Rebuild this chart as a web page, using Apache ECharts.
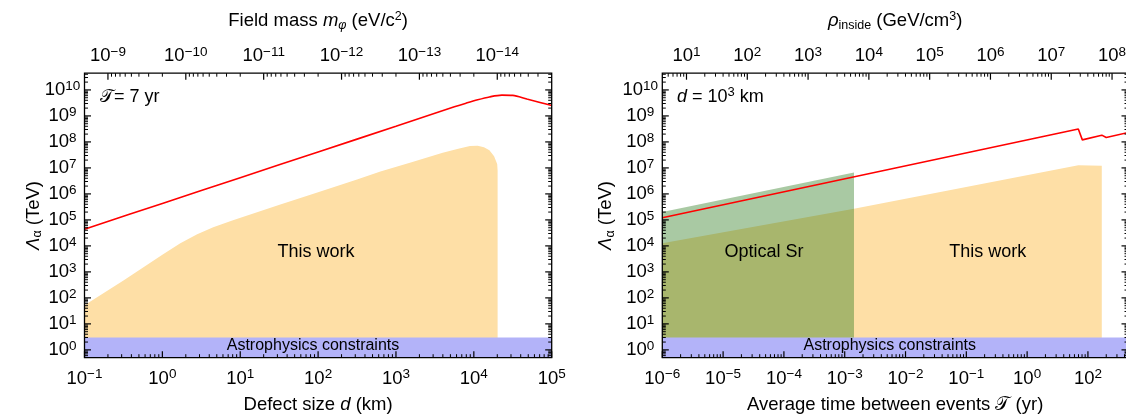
<!DOCTYPE html>
<html>
<head>
<meta charset="utf-8">
<script src="https://cdn.jsdelivr.net/npm/echarts@6.0.0/dist/echarts.min.js"></script>
<style>
html,body{margin:0;padding:0;background:#ffffff;}
#chart{width:1126px;height:417px;}
</style>
</head>
<body>
<div id="chart"></div>
<script>
// ================= DATA =================
// Left panel: bound on Lambda_alpha (TeV) vs defect size d (km), T = 7 yr
const leftRedD        = [0.1, 1, 10, 100, 1000, 3.16e3, 5.62e3, 7.94e3, 1.12e4, 1.585e4, 2.29e4, 3.16e4, 4.79e4, 7.08e4, 1e5];
const leftRedLambda   = [4.4e4, 4.3e5, 4.2e6, 4.1e7, 4.0e8, 1.26e9, 2.24e9, 3.09e9, 4.17e9, 5.37e9, 6.3e9, 6.17e9, 4.47e9, 3.31e9, 2.51e9];
const leftWorkD       = [0.1, 0.32, 1, 1.7, 2.8, 4.5, 7.9, 32, 100, 316, 631, 1585, 3981, 6310, 8913, 1.12e4, 1.35e4, 1.585e4, 1.82e4, 1.995e4, 2.02e4, 2.02e4];
const leftWorkLambda  = [52, 480, 4.6e3, 1.26e4, 2.8e4, 5.2e4, 9.5e4, 3.8e5, 1.17e6, 3.6e6, 7.2e6, 1.66e7, 3.8e7, 5.5e7, 6.9e7, 7.1e7, 6.3e7, 4.8e7, 2.8e7, 1.4e7, 8e6, 0.5];

// Right panel: bound vs average time between events T (yr), d = 10^3 km
const rightRedT       = [1e-6, 6.95, 8.09, 16.9, 20.0, 45.6];
const rightRedLambda  = [1.2e5, 3.16e8, 1.2e8, 1.82e8, 1.48e8, 2.3e8];
const rightSrT        = [1e-6, 1.42e-3, 1.42e-3];
const rightSrLambda   = [2.0e5, 6.6e6, 0.5];
const rightWorkT      = [1e-6, 1.42e-3, 6.95, 16.9, 16.9];
const rightWorkLambda = [1.26e4, 2.7e5, 1.26e7, 1.2e7, 0.5];

const astroLimit = 3; // TeV

// Axis ranges
const leftDRange    = [0.1, 1e5];
const leftMassRange = [2e-15, 2e-9];
const lambdaRange   = [0.5, 4.4e10];
const rightTRange   = [1e-6, 45.6];
const rightRhoRange = [4.0, 1.83e8];

// Tick values and their labels (exponents of 10)
const leftDTicks        = [0.1, 1, 10, 100, 1e3, 1e4, 1e5];
const leftDTickLabels   = ['−1', '0', '1', '2', '3', '4', '5'];
const leftMassTicks     = [1e-9, 1e-10, 1e-11, 1e-12, 1e-13, 1e-14];
const leftMassTickLabels= ['−9', '−10', '−11', '−12', '−13', '−14'];
const lambdaTicks       = [1, 10, 100, 1e3, 1e4, 1e5, 1e6, 1e7, 1e8, 1e9, 1e10];
const lambdaTickLabels  = ['0', '1', '2', '3', '4', '5', '6', '7', '8', '9', '10'];
const rightTTicks       = [1e-6, 1e-5, 1e-4, 1e-3, 1e-2, 1e-1, 1, 10];
const rightTTickLabels  = ['−6', '−5', '−4', '−3', '−2', '−1', '0', '2'];
const rightRhoTicks     = [10, 100, 1e3, 1e4, 1e5, 1e6, 1e7, 1e8];
const rightRhoTickLabels= ['1', '2', '3', '4', '5', '6', '7', '8'];

// Text annotations (positions in data units)
const leftNotes = [
  {x: 94,    y: 6.0e3, text: 'This work', size: 18},
  {x: 86,    y: 1.5,   text: 'Astrophysics constraints', size: 16},
  {x: 0.158, y: 5.5e9, text: '𝒯= 7 yr', size: 18, align: 'left'}
];
const rightNotes = [
  {x: 4.7e-5,  y: 6.0e3, text: 'Optical Sr', size: 18},
  {x: 0.226,   y: 6.0e3, text: 'This work', size: 18},
  {x: 5.5e-3,  y: 1.5,   text: 'Astrophysics constraints', size: 16},
  {x: 1.75e-6, y: 5.5e9, text: '{i|d} = 10{s|3} km', size: 18, align: 'left'}
];

// ================= STYLE =================
const FONT = '"Liberation Sans", Arial, Helvetica, "DejaVu Sans", sans-serif';
const ORANGE = '#FEDFA6';
const GREEN  = 'rgba(40,120,25,0.40)';
const BAND   = '#B3B3F9';
const RED    = '#FF0000';
const TICK_MAJ = 6.5, TICK_MIN = 3.5;

const tickRich = {
  b: {fontSize: 18.5, lineHeight: 22, fontFamily: FONT, verticalAlign: 'middle', fill: '#000'},
  s: {fontSize: 13.5, lineHeight: 13, fontFamily: FONT, verticalAlign: 'top', fill: '#000'}
};
const noteRich = {
  i: {fontSize: 18, lineHeight: 22, fontFamily: FONT, fontStyle: 'italic', verticalAlign: 'middle', fill: '#000'},
  s: {fontSize: 13, lineHeight: 13, fontFamily: FONT, verticalAlign: 'top', fill: '#000'}
};
const nameRich = {
  i:   {fontSize: 18.5, lineHeight: 22, fontFamily: FONT, fontStyle: 'italic', color: '#000', verticalAlign: 'middle'},
  sub: {fontSize: 12.5, lineHeight: 12, fontFamily: FONT, color: '#000', verticalAlign: 'bottom'},
  subi:{fontSize: 12.5, lineHeight: 12, fontFamily: FONT, fontStyle: 'italic', color: '#000', verticalAlign: 'bottom'},
  sup: {fontSize: 12.5, lineHeight: 12, fontFamily: FONT, color: '#000', verticalAlign: 'top'}
};
const nameStyle = {fontSize: 18.5, lineHeight: 22, fontFamily: FONT, color: '#000', rich: nameRich};

function zip(a, b) { return a.map((v, i) => [v, b[i]]); }

function minorTicks(range) {
  const out = [];
  const lo = Math.min(range[0], range[1]), hi = Math.max(range[0], range[1]);
  const e0 = Math.floor(Math.log10(lo)) - 1;
  const e1 = Math.ceil(Math.log10(hi)) + 1;
  for (let e = e0; e <= e1; e++) {
    for (let k = 2; k <= 9; k++) {
      const v = k * Math.pow(10, e);
      if (v > lo && v < hi) out.push(v);
    }
  }
  return out;
}

function seg(x1, y1, x2, y2, w) {
  return {type: 'line', shape: {x1: x1, y1: y1, x2: x2, y2: y2}, style: {stroke: '#000', lineWidth: w || 1}};
}
function powText(x, y, exp, align, vAlign) {
  return {type: 'text', x: x, y: y, style: {text: '{b|10}{s|' + exp + '}', rich: tickRich, fill: '#000',
    fontFamily: FONT, fontSize: 18.5, align: align, verticalAlign: vAlign}};
}

// Custom series that draws frame + x ticks (bottom or top) + y ticks through the axes' scales
function frameSeries(xIdx, yIdx, opt) {
  return {
    type: 'custom', xAxisIndex: xIdx, yAxisIndex: yIdx, z: 30, silent: true, clip: false,
    data: [[opt.xRef, opt.yRef]],
    renderItem: function (params, api) {
      const cs = params.coordSys;
      const L = cs.x, T = cs.y, R = cs.x + cs.width, B = cs.y + cs.height;
      const ch = [];
      if (opt.frame) {
        ch.push({type: 'rect', shape: {x: L, y: T, width: R - L, height: B - T},
          style: {fill: 'none', stroke: '#000', lineWidth: 1.3}});
      }
      if (opt.xTicks) {
        const top = opt.xSide === 'top';
        const y0 = top ? T : B;
        const dir = top ? 1 : -1;
        opt.xMinor.forEach(function (v) {
          const px = api.coord([v, opt.yRef])[0];
          ch.push(seg(px, y0, px, y0 + dir * TICK_MIN));
        });
        opt.xTicks.forEach(function (v, i) {
          const px = api.coord([v, opt.yRef])[0];
          ch.push(seg(px, y0, px, y0 + dir * TICK_MAJ, 1.2));
          if (top) ch.push(powText(px, T - 6, opt.xLabels[i], 'center', 'bottom'));
          else ch.push(powText(px, B + 10, opt.xLabels[i], 'center', 'top'));
        });
      }
      if (opt.yTicks) {
        opt.yMinor.forEach(function (v) {
          const py = api.coord([opt.xRef, v])[1];
          ch.push(seg(L, py, L + TICK_MIN, py));
          ch.push(seg(R, py, R - TICK_MIN, py));
        });
        opt.yTicks.forEach(function (v, i) {
          const py = api.coord([opt.xRef, v])[1];
          ch.push(seg(L, py, L + TICK_MAJ, py, 1.2));
          ch.push(seg(R, py, R - TICK_MAJ, py, 1.2));
          ch.push(powText(L - 22, py, opt.yLabels[i], 'center', 'middle'));
        });
      }
      return {type: 'group', children: ch};
    }
  };
}

function noteSeries(xIdx, yIdx, notes) {
  return {
    type: 'custom', xAxisIndex: xIdx, yAxisIndex: yIdx, z: 25, silent: true, clip: false,
    data: notes.map(function (n) { return [n.x, n.y]; }),
    renderItem: function (params, api) {
      const n = notes[params.dataIndex];
      const p = api.coord([api.value(0), api.value(1)]);
      return {type: 'text', x: p[0], y: p[1], style: {text: n.text, rich: noteRich, fill: '#000',
        fontFamily: FONT, fontSize: n.size, align: n.align || 'center', verticalAlign: 'middle'}};
    }
  };
}

function areaSeries(xIdx, yIdx, data, color, z) {
  return {type: 'line', xAxisIndex: xIdx, yAxisIndex: yIdx, data: data, symbol: 'none', silent: true,
    lineStyle: {width: 0, opacity: 0}, areaStyle: {color: color, opacity: 1, origin: 'start'}, z: z};
}
function redSeries(xIdx, yIdx, data, smooth) {
  return {type: 'line', xAxisIndex: xIdx, yAxisIndex: yIdx, data: data, symbol: 'none', silent: true,
    smooth: smooth || false, lineStyle: {color: RED, width: 1.6}, z: 6};
}

const hiddenAxisBits = {
  axisLine: {show: false}, axisTick: {show: false}, axisLabel: {show: false},
  splitLine: {show: false}, minorTick: {show: false}, minorSplitLine: {show: false}
};

const option = {
  animation: false,
  backgroundColor: '#ffffff',
  grid: [
    {left: 84.5, top: 73.2, width: 467.2, height: 284.5, containLabel: false, outerBoundsMode: 'none', show: false},
    {left: 662.3, top: 73.2, width: 465.7, height: 284.5, containLabel: false, outerBoundsMode: 'none', show: false}
  ],
  xAxis: [
    Object.assign({type: 'log', logBase: 10, gridIndex: 0, position: 'bottom', min: leftDRange[0], max: leftDRange[1],
      name: 'Defect size {i|d} (km)', nameLocation: 'middle', nameGap: 36, nameTextStyle: nameStyle}, hiddenAxisBits),
    Object.assign({type: 'log', logBase: 10, gridIndex: 0, position: 'top', inverse: true,
      min: leftMassRange[0], max: leftMassRange[1],
      name: 'Field mass {i|m}{subi|φ} (eV/c{sup|2})', nameLocation: 'middle', nameGap: 41, nameTextStyle: nameStyle}, hiddenAxisBits),
    Object.assign({type: 'log', logBase: 10, gridIndex: 1, position: 'bottom', min: rightTRange[0], max: rightTRange[1],
      name: 'Average time between events 𝒯 (yr)', nameLocation: 'middle', nameGap: 36, nameTextStyle: nameStyle}, hiddenAxisBits),
    Object.assign({type: 'log', logBase: 10, gridIndex: 1, position: 'top', min: rightRhoRange[0], max: rightRhoRange[1],
      name: '{i|ρ}{sub|inside} (GeV/cm{sup|3})', nameLocation: 'middle', nameGap: 41, nameTextStyle: nameStyle}, hiddenAxisBits)
  ],
  yAxis: [
    Object.assign({type: 'log', logBase: 10, gridIndex: 0, position: 'left', min: lambdaRange[0], max: lambdaRange[1],
      name: '{i|Λ}{sub|α} (TeV)', nameLocation: 'middle', nameGap: 40, nameTextStyle: nameStyle}, hiddenAxisBits),
    Object.assign({type: 'log', logBase: 10, gridIndex: 1, position: 'left', min: lambdaRange[0], max: lambdaRange[1],
      name: '{i|Λ}{sub|α} (TeV)', nameLocation: 'middle', nameGap: 45, nameTextStyle: nameStyle}, hiddenAxisBits)
  ],
  series: [
    // ---- left panel ----
    areaSeries(0, 0, zip(leftWorkD, leftWorkLambda), ORANGE, 2),
    areaSeries(0, 0, [[leftDRange[0], astroLimit], [leftDRange[1], astroLimit]], BAND, 4),
    redSeries(0, 0, zip(leftRedD, leftRedLambda), 0.3),
    noteSeries(0, 0, leftNotes),
    frameSeries(0, 0, {frame: true, xRef: leftDRange[0], yRef: lambdaRange[0], xSide: 'bottom',
      xTicks: leftDTicks, xLabels: leftDTickLabels, xMinor: minorTicks(leftDRange),
      yTicks: lambdaTicks, yLabels: lambdaTickLabels, yMinor: minorTicks(lambdaRange)}),
    frameSeries(1, 0, {frame: false, xRef: leftMassRange[0], yRef: lambdaRange[0], xSide: 'top',
      xTicks: leftMassTicks, xLabels: leftMassTickLabels, xMinor: minorTicks(leftMassRange)}),
    // ---- right panel ----
    areaSeries(2, 1, zip(rightWorkT, rightWorkLambda), ORANGE, 2),
    areaSeries(2, 1, zip(rightSrT, rightSrLambda), GREEN, 3),
    areaSeries(2, 1, [[rightTRange[0], astroLimit], [rightTRange[1], astroLimit]], BAND, 4),
    redSeries(2, 1, zip(rightRedT, rightRedLambda)),
    noteSeries(2, 1, rightNotes),
    frameSeries(2, 1, {frame: true, xRef: rightTRange[0], yRef: lambdaRange[0], xSide: 'bottom',
      xTicks: rightTTicks, xLabels: rightTTickLabels, xMinor: minorTicks(rightTRange),
      yTicks: lambdaTicks, yLabels: lambdaTickLabels, yMinor: minorTicks(lambdaRange)}),
    frameSeries(3, 1, {frame: false, xRef: rightRhoRange[0], yRef: lambdaRange[0], xSide: 'top',
      xTicks: rightRhoTicks, xLabels: rightRhoTickLabels, xMinor: minorTicks(rightRhoRange)})
  ]
};

const chart = echarts.init(document.getElementById('chart'), null, {renderer: 'canvas'});
chart.setOption(option);
</script>
</body>
</html>
